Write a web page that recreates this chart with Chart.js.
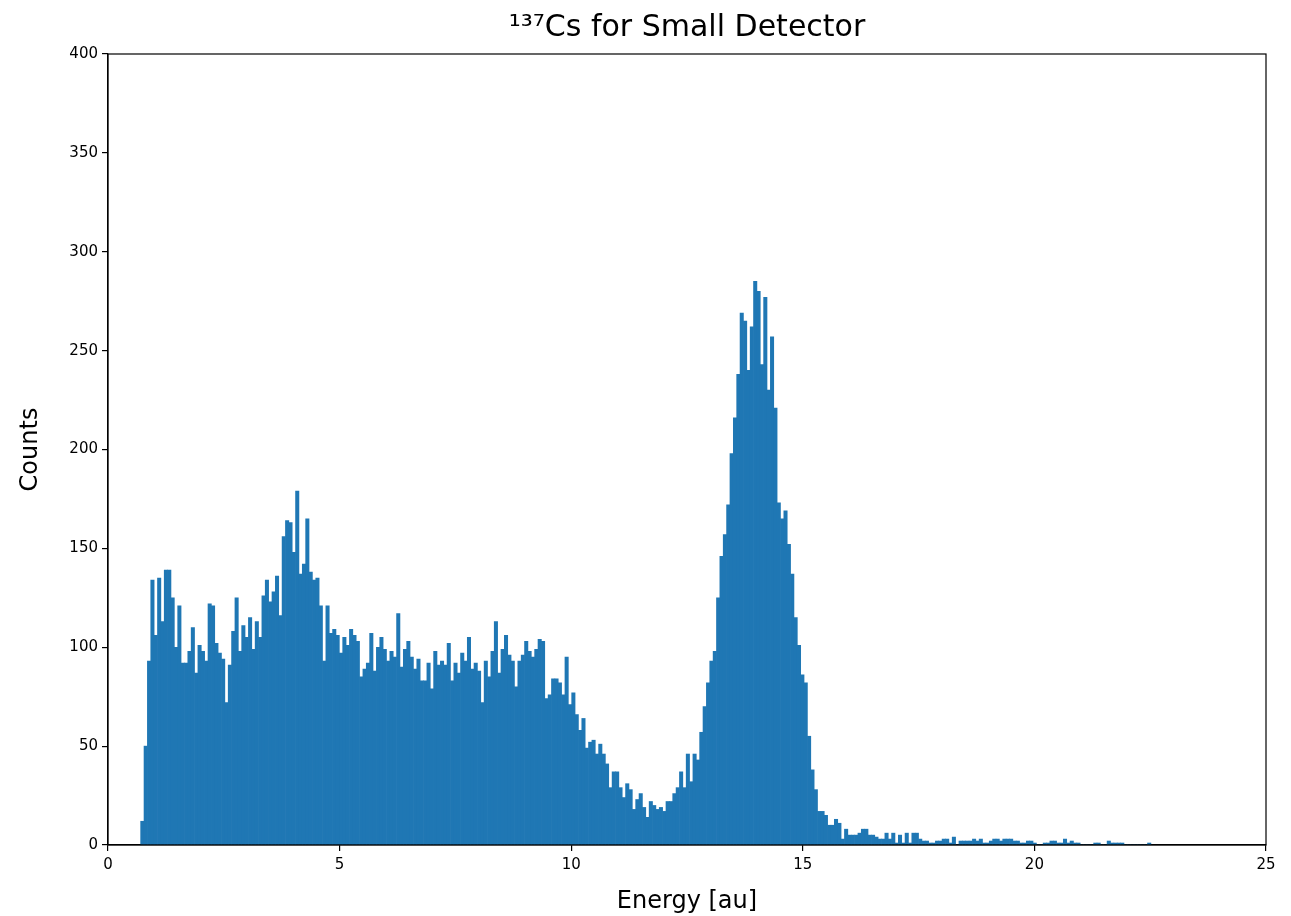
<!DOCTYPE html>
<html>
<head>
<meta charset="utf-8">
<title>137Cs for Small Detector</title>
<script src="https://cdn.jsdelivr.net/npm/chart.js@4/dist/chart.umd.min.js"></script>
<style>
  html, body { margin: 0; padding: 0; background: #fff; }
  #spectrum { display: block; }
</style>
</head>
<body>
<canvas id="spectrum" width="1291" height="916"></canvas>
<script>
// histogram bins (energy in au), 300 equal bins
const binStart = 0.705;
const binWidth = 0.0727;

const counts = [
  12, 50, 93, 134, 106, 135, 113, 139, 139, 125,
  100, 121, 92, 92, 98, 110, 87, 101, 98, 93,
  122, 121, 102, 97, 94, 72, 91, 108, 125, 98,
  111, 105, 115, 99, 113, 105, 126, 134, 123, 128,
  136, 116, 156, 164, 163, 148, 179, 137, 142, 165,
  138, 134, 135, 121, 93, 121, 107, 109, 106, 97,
  105, 101, 109, 106, 103, 85, 89, 92, 107, 88,
  100, 105, 99, 93, 98, 95, 117, 90, 99, 103,
  95, 89, 94, 83, 83, 92, 79, 98, 91, 93,
  91, 102, 83, 92, 87, 97, 93, 105, 89, 92,
  88, 72, 93, 85, 98, 113, 87, 99, 106, 96,
  93, 80, 93, 96, 103, 98, 95, 99, 104, 103,
  74, 76, 84, 84, 82, 76, 95, 71, 77, 66,
  58, 64, 49, 52, 53, 46, 51, 46, 41, 29,
  37, 37, 29, 24, 31, 28, 18, 23, 26, 19,
  14, 22, 20, 18, 19, 17, 22, 22, 26, 29,
  37, 29, 46, 32, 46, 43, 57, 70, 82, 93,
  98, 125, 146, 157, 172, 198, 216, 238, 269, 265,
  240, 262, 285, 280, 243, 277, 230, 257, 221, 173,
  165, 169, 152, 137, 115, 101, 86, 82, 55, 38,
  28, 17, 17, 15, 10, 10, 13, 11, 3, 8,
  5, 5, 5, 6, 8, 8, 5, 5, 4, 3,
  3, 6, 3, 6, 1, 5, 1, 6, 1, 6,
  6, 3, 2, 2, 1, 1, 2, 2, 3, 3,
  1, 4, 0, 2, 2, 2, 2, 3, 2, 3,
  1, 1, 2, 3, 3, 2, 3, 3, 3, 2,
  2, 1, 1, 2, 2, 1, 0, 0, 1, 1,
  2, 2, 1, 1, 3, 1, 2, 1, 1, 0,
  0, 0, 0, 1, 1, 0, 0, 2, 1, 1,
  1, 1, 0, 0, 0, 0, 0, 0, 0, 1
];

const xTicks = [0, 5, 10, 15, 20, 25];
const yTicks = [0, 50, 100, 150, 200, 250, 300, 350, 400];

const chartTitle = '¹³⁷Cs for Small Detector';
const xLabel = 'Energy [au]';
const yLabel = 'Counts';

const barColor = '#1f77b4';

Chart.defaults.font.family = '"DejaVu Sans", sans-serif';
Chart.defaults.color = '#000';

// bar at the centre of each bin
const histogramPoints = counts.map((count, i) => ({
  x: binStart + (i + 0.5) * binWidth,
  y: count
}));

// centre the title over the plot area, like matplotlib does
const titleOverPlot = {
  id: 'titleOverPlot',
  afterLayout(chart) {
    if (chart.titleBlock) {
      chart.titleBlock.left = chart.chartArea.left;
      chart.titleBlock.right = chart.chartArea.right;
    }
  }
};

// box round the plot area
const frameBox = {
  id: 'frameBox',
  afterDraw(chart) {
    const { ctx, chartArea } = chart;
    ctx.save();
    ctx.strokeStyle = '#000';
    ctx.lineWidth = 1.2;
    ctx.strokeRect(chartArea.left, chartArea.top, chartArea.right - chartArea.left, chartArea.bottom - chartArea.top);
    ctx.restore();
  }
};

const spectrumChart = new Chart(document.getElementById('spectrum'), {
  type: 'bar',
  data: {
    datasets: [{
      label: 'counts',
      data: histogramPoints,
      backgroundColor: barColor,
      borderWidth: 0,
      barPercentage: 1.0,
      categoryPercentage: 1.0
    }]
  },
  options: {
    responsive: false,
    animation: false,
    devicePixelRatio: 1,
    layout: {
      padding: { left: 0, right: 25, top: 0, bottom: 0 }
    },
    plugins: {
      legend: { display: false },
      tooltip: { enabled: false },
      title: {
        display: true,
        text: chartTitle,
        color: '#000',
        font: { size: 30, weight: 'normal' },
        padding: { top: 10, bottom: 8 }
      }
    },
    scales: {
      x: {
        type: 'linear',
        min: xTicks[0],
        max: xTicks[xTicks.length - 1],
        offset: false,
        afterFit(scale) { scale.height = 71; },
        afterBuildTicks(scale) { scale.ticks = xTicks.map(v => ({ value: v })); },
        grid: { offset: false, drawOnChartArea: false, drawTicks: true, tickLength: 6, color: '#000', lineWidth: 1.2 },
        border: { display: true, color: '#000', width: 1.2 },
        ticks: { color: '#000', font: { size: 15 }, padding: 5, maxRotation: 0 },
        title: {
          display: true,
          text: xLabel,
          color: '#000',
          font: { size: 24 },
          padding: { top: 1, bottom: 0 }
        }
      },
      y: {
        type: 'linear',
        min: yTicks[0],
        max: yTicks[yTicks.length - 1],
        afterFit(scale) { scale.width = 108; },
        afterBuildTicks(scale) { scale.ticks = yTicks.map(v => ({ value: v })); },
        grid: { drawOnChartArea: false, drawTicks: true, tickLength: 6, color: '#000', lineWidth: 1.2 },
        border: { display: true, color: '#000', width: 1.2 },
        ticks: { color: '#000', font: { size: 15 }, padding: 4 },
        title: {
          display: true,
          text: yLabel,
          color: '#000',
          font: { size: 24 },
          padding: { top: 16, bottom: 0 }
        }
      }
    }
  },
  plugins: [titleOverPlot, frameBox]
});
</script>
</body>
</html>
